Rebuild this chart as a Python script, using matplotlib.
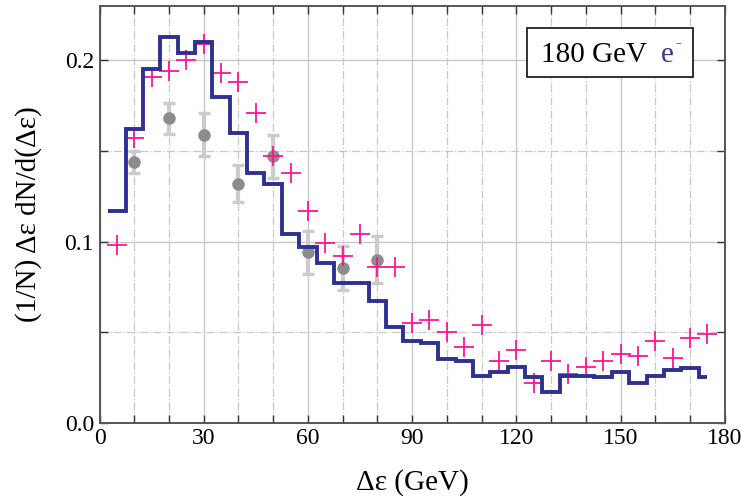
import matplotlib.pyplot as plt
from matplotlib.ticker import MultipleLocator
from matplotlib.patches import Rectangle

# histogram (simulation), bins 5 GeV wide
edges = [2.5, 7.5, 12.5, 17.5, 22.5, 27.5, 32.5, 37.5, 42.5, 47.5, 52.5, 57.5,
         62.5, 67.5, 72.5, 77.5, 82.5, 87.5, 92.5, 97.5, 102.5, 107.5, 112.5,
         117.5, 122.5, 127.5, 132.5, 137.5, 142.5, 147.5, 152.5, 157.5, 162.5,
         167.5, 172.5, 175.0]
hist = [0.117, 0.162, 0.195, 0.213, 0.204, 0.210, 0.180, 0.160, 0.138, 0.132,
        0.104, 0.097, 0.088, 0.077, 0.077, 0.067, 0.053, 0.045, 0.044, 0.035,
        0.034, 0.026, 0.028, 0.031, 0.025, 0.017, 0.026, 0.026, 0.025, 0.028,
        0.022, 0.026, 0.029, 0.030, 0.025]

# magenta crosses
x_plus = [5, 10, 15, 20, 25, 30, 35, 40, 45, 50, 55, 60, 65, 70, 75, 80, 85, 90,
          95, 100, 105, 110, 115, 120, 125, 130, 135, 140, 145, 150, 155, 160,
          165, 170, 175]
y_plus = [0.098, 0.157, 0.191, 0.194, 0.200, 0.209, 0.193, 0.188, 0.171, 0.147,
          0.138, 0.117, 0.099, 0.092, 0.104, 0.086, 0.086, 0.055, 0.057, 0.050,
          0.042, 0.054, 0.034, 0.040, 0.022, 0.034, 0.027, 0.031, 0.034, 0.038,
          0.037, 0.045, 0.036, 0.047, 0.049]

# grey data points
x_dat = [10, 20, 30, 40, 50, 60, 70, 80]
y_dat = [0.144, 0.168, 0.159, 0.132, 0.147, 0.094, 0.0855, 0.090]
e_dat = [0.006, 0.0085, 0.012, 0.010, 0.012, 0.012, 0.012, 0.013]

plt.rcParams['font.family'] = ['Liberation Serif', 'DejaVu Serif']

fig = plt.figure(figsize=(7.41, 4.98), dpi=100)
ax = fig.add_axes([0.1343, 0.151, 0.8437, 0.837])

ax.xaxis.set_major_locator(MultipleLocator(30))
ax.xaxis.set_minor_locator(MultipleLocator(10))
ax.yaxis.set_major_locator(MultipleLocator(0.1))
ax.yaxis.set_minor_locator(MultipleLocator(0.05))
ax.grid(which='major', color='#c8c8c8', lw=1.0, ls='-')
ax.grid(which='minor', color='#c8c8c8', lw=0.9, ls='-.')
ax.set_axisbelow(True)

ax.errorbar(x_dat, y_dat, yerr=e_dat, fmt='none', ecolor='#cccccc',
            elinewidth=3, capsize=4, capthick=2.5, zorder=2)
ax.plot(x_dat, y_dat, 'o', color='#8c8c8c', ms=8, zorder=3)
ax.plot(x_plus, y_plus, '+', color='#ff1493', ms=14, mew=1.3, zorder=4)
ax.stairs(hist, edges, color='#2e3192', lw=2.8, baseline=None, zorder=5)

ax.set_xlim(0, 180)
ax.set_ylim(0, 0.23)
ax.set_yticks([0.0, 0.1, 0.2])
ax.set_yticklabels(['0.0', '0.1', '0.2'])
ax.tick_params(which='both', direction='in', top=True, right=True,
               length=6, width=1, labelsize=17, color='#333333', pad=4)
for s in ax.spines.values():
    s.set_color('#555555')
    s.set_linewidth(1.4)

ax.set_xlabel('Δε (GeV)', fontsize=21, va='center')
ax.set_ylabel('(1/N) Δε dN/d(Δε)', fontsize=21, va='center')
ax.xaxis.set_label_coords(0.5, -0.143)
ax.yaxis.set_label_coords(-0.114, 0.5)

# label box
ax.add_patch(Rectangle((0.683, 0.83), 0.266, 0.116, transform=ax.transAxes,
                       fc='white', ec='#222222', lw=1.3, zorder=6))
ax.text(0.875, 0.882, '180 GeV', transform=ax.transAxes, fontsize=21,
        ha='right', va='center', zorder=7)
ax.text(0.898, 0.882, 'e', transform=ax.transAxes, fontsize=21, color='#3b3590',
        ha='left', va='center', zorder=7)
ax.text(0.921, 0.912, '-', transform=ax.transAxes, fontsize=12, color='#3b3590',
        ha='left', va='center', zorder=7)

fig.savefig('out.png', dpi=100)
